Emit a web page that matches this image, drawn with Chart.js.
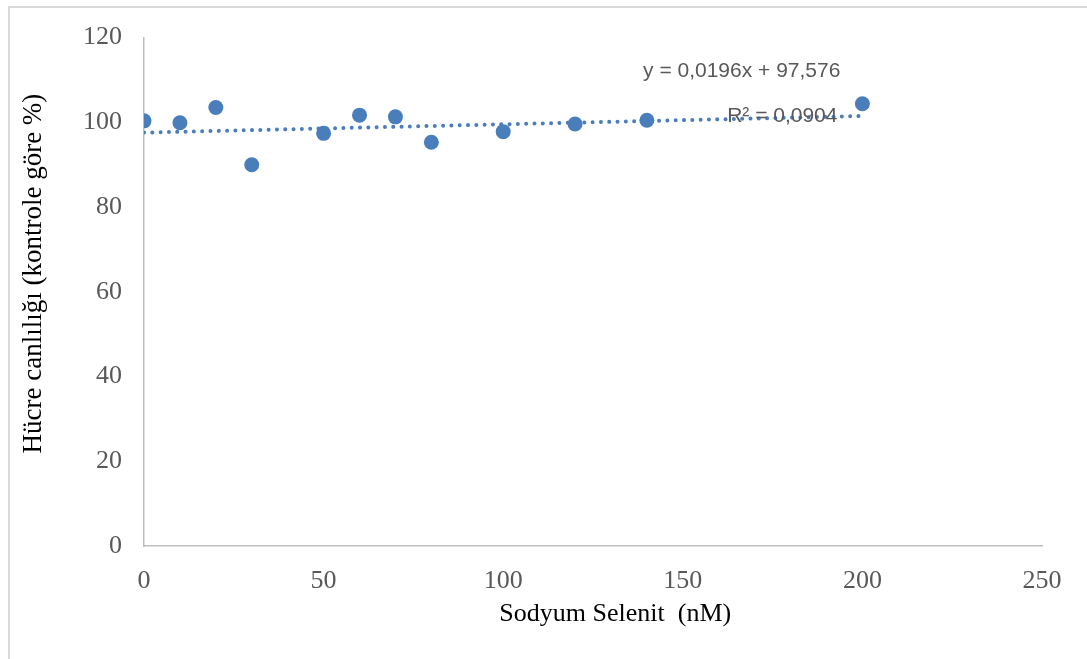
<!DOCTYPE html>
<html>
<head>
<meta charset="utf-8">
<script src="https://cdn.jsdelivr.net/npm/chart.js@4/dist/chart.umd.min.js"></script>
<style>
  html, body { margin: 0; padding: 0; background: #ffffff; }
  #wrap { width: 1087px; height: 659px; position: relative; }
</style>
</head>
<body>
<div id="wrap"><canvas id="c" width="1087" height="659"></canvas></div>
<script>
// ---- data ----
const concentrations = [0, 10, 20, 30, 50, 60, 70, 80, 100, 120, 140, 200];
const viability      = [100.35, 99.9, 103.5, 90.0, 97.4, 101.7, 101.3, 95.3, 97.8, 99.6, 100.5, 104.4];
const trendX         = [0, 200];
const trendY         = [97.576, 101.496];
const xTicks         = [0, 50, 100, 150, 200, 250];
const yTicks         = [0, 20, 40, 60, 80, 100, 120];
const xTitle         = 'Sodyum Selenit  (nM)';
const yTitle         = 'Hücre canlılığı (kontrole göre %)';
const equationText   = 'y = 0,0196x + 97,576';
const r2Text         = 'R² = 0,0904';

const points = concentrations.map((x, i) => ({ x: x, y: viability[i] }));
const trend = trendX.map((x, i) => ({ x: x, y: trendY[i] }));

const overlay = {
  id: 'overlay',
  beforeDraw(chart) {
    const ctx = chart.ctx;
    ctx.save();
    ctx.fillStyle = '#ffffff';
    ctx.fillRect(0, 0, chart.width, chart.height);
    ctx.strokeStyle = '#d9d9d9';
    ctx.lineWidth = 2;
    ctx.strokeRect(9, 7, chart.width + 20, chart.height + 20);
    ctx.restore();
  },
  afterDatasetsDraw(chart) {
    const ctx = chart.ctx;
    const xs = chart.scales.x, ys = chart.scales.y;
    ctx.save();
    // trendline label
    ctx.fillStyle = '#595959';
    ctx.font = '21px "Liberation Sans", Arial, sans-serif';
    ctx.textAlign = 'center';
    ctx.textBaseline = 'middle';
    ctx.fillText(equationText, xs.getPixelForValue(166.4), ys.getPixelForValue(112.1));
    ctx.fillText(r2Text, xs.getPixelForValue(177.7), ys.getPixelForValue(101.5));
    // axis titles
    ctx.fillStyle = '#000000';
    ctx.font = '26px "Liberation Serif", "Times New Roman", serif';
    ctx.fillText(xTitle, xs.getPixelForValue(131.2), 614);
    ctx.font = '27px "Liberation Serif", "Times New Roman", serif';
    ctx.translate(34, ys.getPixelForValue(64.3));
    ctx.rotate(-Math.PI / 2);
    ctx.fillText(yTitle, 0, 0);
    ctx.restore();
  }
};

new Chart(document.getElementById('c'), {
  type: 'scatter',
  data: {
    datasets: [
      {
        label: 'viability',
        data: points,
        backgroundColor: '#4a7ebb',
        borderColor: '#4a7ebb',
        pointRadius: 7.5,
        pointHoverRadius: 7.5,
        borderWidth: 0,
        order: 1
      },
      {
        label: 'trend',
        type: 'line',
        data: trend,
        borderColor: '#4a7ebb',
        borderWidth: 4,
        borderDash: [0.01, 8.3],
        borderCapStyle: 'round',
        pointRadius: 0,
        fill: false,
        order: 2
      }
    ]
  },
  options: {
    responsive: false,
    animation: false,
    events: [],
    layout: { padding: { top: 37, right: 45, bottom: 0, left: 0 } },
    plugins: {
      legend: { display: false },
      tooltip: { enabled: false }
    },
    scales: {
      x: {
        type: 'linear',
        min: xTicks[0],
        max: xTicks[xTicks.length - 1],
        afterBuildTicks: s => { s.ticks = xTicks.map(v => ({ value: v })); },
        afterFit: s => { s.height = 113; },
        grid: { display: false, drawTicks: false },
        border: { display: true, color: '#bfbfbf', width: 1.5 },
        ticks: {
          padding: 20,
          color: '#595959',
          font: { family: '"Liberation Serif", "Times New Roman", serif', size: 26 },
          maxRotation: 0
        }
      },
      y: {
        type: 'linear',
        min: yTicks[0],
        max: yTicks[yTicks.length - 1],
        afterBuildTicks: s => { s.ticks = yTicks.map(v => ({ value: v })); },
        afterFit: s => { s.width = 144; },
        grid: { display: false, drawTicks: false },
        border: { display: true, color: '#bfbfbf', width: 1.5 },
        ticks: {
          padding: 22,
          color: '#595959',
          font: { family: '"Liberation Serif", "Times New Roman", serif', size: 26 }
        }
      }
    }
  },
  plugins: [overlay]
});
</script>
</body>
</html>
